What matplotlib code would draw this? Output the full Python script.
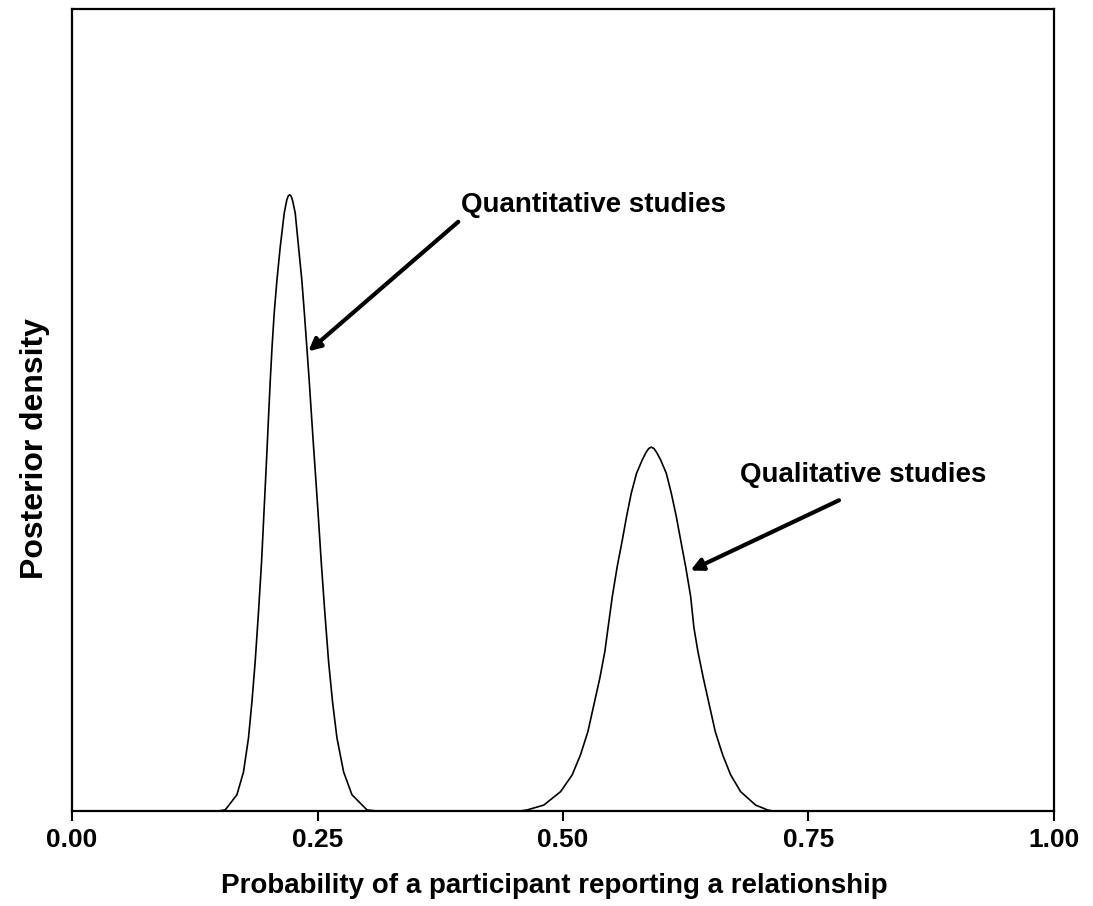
import matplotlib.pyplot as plt

# posterior density curves
quant_x = [0.1488, 0.1560, 0.1679, 0.1746, 0.1797, 0.1832, 0.1865, 0.1899, 0.1930, 0.1955,
           0.1971, 0.1987, 0.2003, 0.2019, 0.2037, 0.2059, 0.2087, 0.2120, 0.2161, 0.2187,
           0.2202, 0.2217, 0.2232, 0.2247, 0.2273, 0.2307, 0.2340, 0.2366, 0.2391, 0.2415,
           0.2437, 0.2460, 0.2483, 0.2505, 0.2538, 0.2574, 0.2613, 0.2653, 0.2698, 0.2766,
           0.2851, 0.3004, 0.3099]
quant_y = [0.00, 0.03, 0.47, 1.13, 2.12, 3.17, 4.33, 5.78, 7.23, 8.69,
           9.62, 10.57, 11.56, 12.52, 13.48, 14.47, 15.43, 16.38, 17.37, 17.75,
           17.87, 17.90, 17.86, 17.72, 17.37, 16.38, 15.43, 14.47, 13.48, 12.52,
           11.56, 10.57, 9.62, 8.69, 7.23, 5.78, 4.33, 3.17, 2.12, 1.13,
           0.47, 0.03, 0.00]

qual_x = [0.4567, 0.4635, 0.4804, 0.4975, 0.5094, 0.5178, 0.5253, 0.5314, 0.5375, 0.5426,
          0.5459, 0.5502, 0.5552, 0.5604, 0.5647, 0.5695, 0.5749, 0.5807, 0.5846, 0.5873,
          0.5899, 0.5926, 0.5953, 0.5994, 0.6052, 0.6103, 0.6154, 0.6198, 0.6249, 0.6300,
          0.6333, 0.6374, 0.6429, 0.6490, 0.6551, 0.6626, 0.6707, 0.6809, 0.6962, 0.7082,
          0.7136]
qual_y = [0.00, 0.03, 0.17, 0.56, 1.05, 1.63, 2.30, 3.08, 3.86, 4.63,
          5.33, 6.23, 7.10, 7.87, 8.55, 9.23, 9.81, 10.20, 10.42, 10.53,
          10.57, 10.53, 10.42, 10.20, 9.81, 9.23, 8.55, 7.87, 7.10, 6.23,
          5.33, 4.63, 3.86, 3.08, 2.30, 1.63, 1.05, 0.56, 0.17, 0.03,
          0.00]

xticks = [0.00, 0.25, 0.50, 0.75, 1.00]

plt.rcParams['font.family'] = ['Liberation Sans', 'DejaVu Sans']

fig = plt.figure(figsize=(10.93, 9.06), dpi=100)
ax = fig.add_axes([0.0659, 0.1049, 0.8984, 0.8852])

ax.plot(quant_x, quant_y, color='black', lw=1.2)
ax.plot(qual_x, qual_y, color='black', lw=1.2)

ax.set_xlim(0, 1)
ax.set_ylim(0, 23.3)
ax.set_xticks(xticks)
ax.set_xticklabels(['%.2f' % t for t in xticks], fontsize=19, fontweight='bold')
ax.tick_params(axis='x', direction='out', length=7, width=1.5, pad=5)
ax.set_yticks([])
for s in ax.spines.values():
    s.set_linewidth(1.6)

# arrows + labels
ax.annotate('', xy=(0.2385, 13.30), xytext=(0.3955, 17.17),
            arrowprops=dict(arrowstyle='-|>', color='black', lw=3, mutation_scale=18))
ax.text(0.3965, 17.60, 'Quantitative studies', fontsize=20, fontweight='bold',
        ha='left', va='center')
ax.annotate('', xy=(0.6272, 6.95), xytext=(0.7836, 9.06),
            arrowprops=dict(arrowstyle='-|>', color='black', lw=3, mutation_scale=18))
ax.text(0.6802, 9.76, 'Qualitative studies', fontsize=20, fontweight='bold',
        ha='left', va='center')

fig.text(554 / 1093, 1 - 886 / 906, 'Probability of a participant reporting a relationship',
         fontsize=20, fontweight='bold', ha='center', va='center')
fig.text(35 / 1093, 1 - 449 / 906, 'Posterior density', fontsize=23, fontweight='bold',
         rotation=90, ha='center', va='center')

plt.savefig('out.png', dpi=100)
